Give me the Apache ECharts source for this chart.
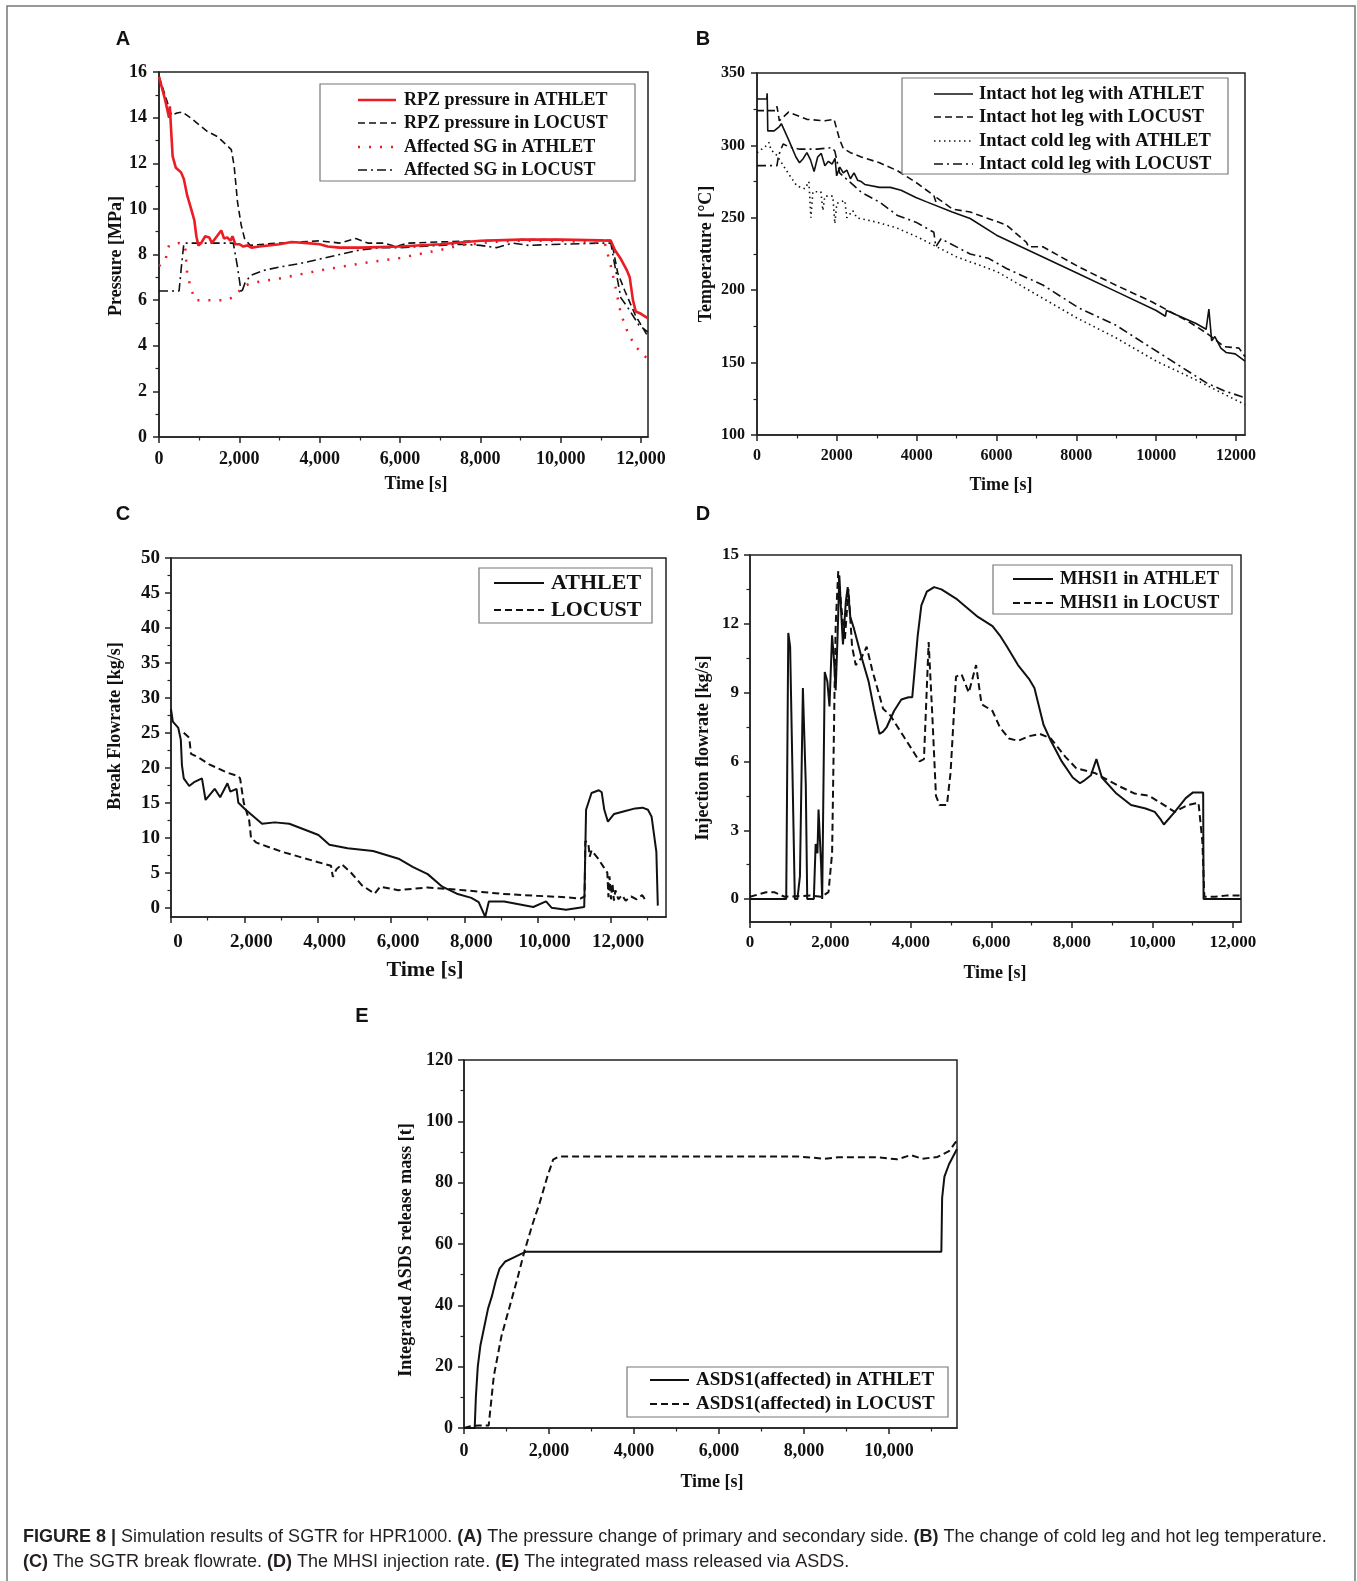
<!DOCTYPE html>
<html>
<head>
<meta charset="utf-8">
<title>SGTR simulation results for HPR1000</title>
<script src="https://cdn.jsdelivr.net/npm/echarts@6/dist/echarts.min.js"></script>
<style>
  html, body { margin: 0; padding: 0; background: #fff; }
  #chart { width: 1357px; height: 1581px; }
</style>
</head>
<body>
<div id="chart"></div>
<script>
// ---- data: [time s, value] ----
// (A) pressure [MPa]
const aRpzAthlet = [[0,15.8],[150,14.8],[250,14.0],[270,14.5],[300,13.5],[340,12.3],[420,11.8],[550,11.6],[620,11.3],[700,10.6],[800,10.0],[880,9.5],[930,8.8],[980,8.4],[1050,8.5],[1150,8.8],[1250,8.75],[1320,8.5],[1400,8.7],[1550,9.05],[1620,8.7],[1700,8.75],[1780,8.6],[1830,8.8],[1900,8.45],[2000,8.45],[2100,8.35],[2200,8.4],[2300,8.3],[2500,8.35],[3000,8.45],[3300,8.55],[3700,8.5],[4000,8.45],[4200,8.35],[4500,8.3],[5000,8.3],[6000,8.35],[7000,8.45],[8000,8.6],[9000,8.65],[10000,8.65],[11000,8.62],[11250,8.6],[11350,8.2],[11500,7.8],[11650,7.3],[11720,7.0],[11800,6.0],[11870,5.5],[12000,5.4],[12175,5.2]];
const aRpzLocust = [[0,15.8],[150,15.0],[310,14.1],[450,14.2],[580,14.25],[700,14.1],[850,13.9],[1200,13.4],[1470,13.15],[1650,12.85],[1800,12.6],[1870,11.9],[1955,10.3],[2045,9.3],[2130,8.7],[2270,8.4],[2600,8.45],[3000,8.5],[4000,8.6],[4500,8.5],[4900,8.7],[5200,8.5],[5600,8.5],[5900,8.35],[6200,8.5],[7000,8.55],[8000,8.6],[9000,8.65],[10000,8.65],[11000,8.62],[11250,8.62],[11290,8.4],[11420,7.2],[11600,6.4],[11870,5.3],[12175,4.4]];
const aSgAthlet = [[0,7.5],[150,7.7],[250,8.4],[500,8.5],[650,8.4],[700,7.2],[780,6.6],[900,6.0],[1700,6.0],[1900,6.2],[2100,6.6],[2300,6.75],[3000,6.95],[4000,7.3],[5000,7.6],[6000,7.85],[7000,8.2],[7500,8.4],[8300,8.55],[9000,8.6],[10000,8.6],[11100,8.5],[11250,7.5],[11350,6.7],[11500,5.4],[11700,4.45],[11900,3.9],[12175,3.4]];
const aSgLocust = [[0,6.4],[500,6.4],[560,7.5],[620,8.5],[1000,8.5],[1500,8.5],[1850,8.5],[1950,7.5],[2050,6.3],[2150,6.8],[2300,7.1],[2600,7.3],[3000,7.45],[3500,7.6],[4000,7.8],[4500,8.0],[5000,8.2],[5500,8.3],[6000,8.3],[6500,8.35],[7000,8.4],[7500,8.45],[8000,8.4],[8400,8.3],[8800,8.5],[9200,8.4],[10000,8.45],[11000,8.5],[11250,8.5],[11330,7.7],[11500,6.1],[11700,5.6],[11950,4.9],[12175,4.6]];

// (B) temperature [°C]
const bHotAthlet = [[0,332],[245,332],[255,336],[270,310],[430,310],[560,313],[610,315],[790,304],[975,292],[1065,288],[1160,291],[1250,295],[1340,290],[1430,282],[1520,292],[1610,294.5],[1700,286],[1790,289],[1880,287],[1955,291],[1995,279],[2075,285],[2160,281],[2250,283],[2340,277],[2430,281],[2520,276],[2610,275],[2700,273],[3070,271],[3340,271],[3610,269],[3980,264],[4250,261],[4890,254],[5340,249.5],[6000,238],[7000,225],[8000,212],[9000,199],[10000,186],[10230,182],[10260,186],[10500,183],[11000,177],[11250,173],[11320,187],[11390,165],[11470,168],[11620,160],[11750,157],[11980,156],[12225,151]];
const bHotLocust = [[0,324],[470,324],[500,327],[560,317],[790,323],[1250,318],[1700,317],[1930,318],[2070,304],[2160,298],[2340,295],[2610,292],[3070,288],[3520,282.5],[3980,274.5],[4430,265.4],[4480,261],[4500,264],[4900,256],[5340,254],[6250,245],[6750,233],[6800,230],[7160,230],[8070,216],[8980,203.6],[9890,192],[10800,178.5],[11260,170.4],[11710,161],[12075,160],[12225,154]];
const bColdAthlet = [[0,295],[245,300],[300,302],[350,297],[500,293],[800,280],[1000,272],[1200,270],[1300,275],[1350,250],[1400,268],[1600,268],[1650,255],[1700,265],[1900,265],[1950,246],[2000,260],[2200,262],[2250,250],[2400,255],[2500,250],[3000,247],[3500,243],[4000,237],[4500,230],[5000,223],[5500,218],[6000,213],[7000,197],[8000,181],[9000,167],[10000,151],[11000,138],[11500,131],[12225,121]];
const bColdLocust = [[0,286],[500,286],[540,293],[655,301],[800,299],[1065,297.4],[1500,297.4],[1880,298.5],[1950,296],[2070,281],[2610,267.7],[3070,260.8],[3520,251.6],[3980,247],[4430,240],[4480,230],[4610,235.5],[5340,225],[5800,222],[6250,215],[7160,203.6],[8070,187.6],[8980,176],[9890,160],[10800,144],[11260,136],[11710,130.4],[12225,125.8]];

// (C) break flowrate [kg/s]
const cAthlet = [[0,28.4],[50,26.6],[199,25.7],[268,24],[298,20.4],[348,18.5],[497,17.4],[645,18],[844,18.5],[943,15.4],[1192,17],[1341,15.8],[1539,17.8],[1619,16.6],[1787,17],[1837,15],[2036,14],[2483,12],[2830,12.2],[3227,12],[3724,11],[4022,10.4],[4320,9],[4816,8.5],[5511,8.1],[6206,7],[6603,5.8],[7001,4.8],[7398,3],[7795,2],[8192,1.4],[8391,0.8],[8570,-1.3],[8669,0.9],[9086,0.9],[9880,0.1],[10228,0.9],[10377,0],[10774,-0.3],[11270,0.1],[11320,14],[11469,16.4],[11668,16.8],[11747,16.5],[11817,14],[11916,12.3],[12085,13.4],[12363,13.8],[12661,14.2],[12859,14.3],[13008,14],[13108,13],[13237,8],[13277,0.3]];
const cLocust = [[348,25],[497,24.3],[545,22],[744,21.5],[1041,20.5],[1537,19.3],[1835,18.8],[1884,18.5],[1984,15],[2132,12.5],[2182,10],[2331,9.3],[3025,8],[4017,6.5],[4364,6],[4414,4.4],[4513,5.5],[4662,6.2],[4910,5],[5208,3.2],[5555,2],[5704,3],[6200,2.5],[6993,2.9],[7985,2.5],[8977,2],[9969,1.7],[10763,1.5],[11160,1.3],[11280,1.6],[11300,9.5],[11380,9.3],[11420,7.3],[11470,8.2],[11650,7.0],[11800,5.8],[11900,5.0],[11930,1.5],[11960,4.5],[12000,1.2],[12040,3.5],[12080,1.0],[12120,2.5],[12200,1.2],[12300,1.8],[12400,1.0],[12550,1.6],[12700,1.2],[12850,1.8],[12950,1.0]];

// (D) MHSI injection flowrate [kg/s]
const dAthlet = [[0,0],[900,0],[951,11.6],[997,11],[1114,0],[1178,0],[1241,1],[1314,9.2],[1386,5],[1422,0],[1586,0],[1631,2.4],[1676,2],[1703,3.9],[1767,1.5],[1794,0],[1857,9.9],[1921,9.5],[1975,8.4],[2039,11.5],[2084,10.5],[2129,9.1],[2175,11.4],[2220,14.1],[2265,12.5],[2310,11.1],[2383,13],[2428,13.6],[2492,12.3],[2582,11.8],[2763,10.6],[2945,9.5],[3080,8.3],[3216,7.2],[3307,7.3],[3398,7.5],[3579,8.2],[3760,8.7],[3941,8.8],[4032,8.8],[4168,11.5],[4258,12.8],[4394,13.4],[4575,13.6],[4757,13.5],[5119,13.1],[5391,12.7],[5663,12.3],[6025,11.9],[6206,11.5],[6387,11.0],[6659,10.2],[6931,9.6],[7067,9.2],[7293,7.6],[7475,6.9],[7746,6.0],[8018,5.3],[8199,5.05],[8290,5.15],[8471,5.4],[8607,6.1],[8743,5.3],[9105,4.6],[9468,4.1],[9830,3.95],[10057,3.8],[10193,3.5],[10283,3.25],[10555,3.8],[10827,4.4],[11008,4.65],[11260,4.65],[11270,0],[12200,0]];
const dLocust = [[0,0.1],[400,0.3],[600,0.3],[860,0.1],[1500,0.15],[1770,0.1],[1950,0.3],[2040,2.0],[2100,9],[2130,12],[2193,14.3],[2265,12.8],[2356,11.3],[2446,13.5],[2537,11],[2627,10.2],[2763,10.5],[2899,11],[3035,10],[3307,8.3],[3488,8.0],[3851,7.0],[4213,6.0],[4322,6.1],[4439,11.2],[4530,8],[4621,4.5],[4711,4.1],[4893,4.1],[4983,5.5],[5119,9.7],[5255,9.8],[5436,9.0],[5617,10.2],[5753,8.5],[6025,8.2],[6206,7.5],[6433,7.0],[6659,6.9],[6931,7.1],[7203,7.2],[7475,7.0],[7837,6.2],[8109,5.7],[8562,5.5],[8879,5.2],[9196,4.9],[9558,4.6],[9920,4.5],[10193,4.2],[10555,3.8],[10872,4.1],[11144,4.2],[11240,2.5],[11290,0.1],[11552,0.1],[11824,0.15],[12200,0.15]];

// (E) integrated ASDS release mass [t]
const eAthlet = [[0,0],[252,0],[279,10],[324,20],[387,27],[477,33],[567,39],[657,43],[747,48],[837,52],[972,54.3],[1152,55.5],[1332,56.7],[1467,57.5],[11232,57.5],[11250,75],[11304,82],[11412,86],[11600,91]];
const eLocust = [[0,0],[150,0.6],[350,0.8],[580,0.8],[612,5],[702,17],[882,30],[1062,39],[1242,48],[1422,57.6],[1602,66],[1782,73.5],[1962,82],[2097,87.5],[2232,88.5],[5202,88.5],[7902,88.5],[8487,87.8],[8802,88.3],[9702,88.3],[10197,87.6],[10512,89],[10782,87.8],[11142,88.4],[11412,90.3],[11600,93.8]];

// ---- tick values ----
const timeTicks = [0, 2000, 4000, 6000, 8000, 10000, 12000];
const timeMinor = [1000, 3000, 5000, 7000, 9000, 11000];
const timeMinorC = [1000, 3000, 5000, 7000, 9000, 11000, 13000];
const eTimeTicks = [0, 2000, 4000, 6000, 8000, 10000];
const eTimeMinor = [1000, 3000, 5000, 7000, 9000, 11000];
const aYTicks = [0, 2, 4, 6, 8, 10, 12, 14, 16];
const aYMinor = [1, 3, 5, 7, 9, 11, 13, 15];
const bYTicks = [100, 150, 200, 250, 300, 350];
const bYMinor = [125, 175, 225, 275, 325];
const cYTicks = [0, 5, 10, 15, 20, 25, 30, 35, 40, 45, 50];
const cYMinor = [2.5, 7.5, 12.5, 17.5, 22.5, 27.5, 32.5, 37.5, 42.5, 47.5];
const dYTicks = [0, 3, 6, 9, 12, 15];
const dYMinor = [1.5, 4.5, 7.5, 10.5, 13.5];
const eYTicks = [0, 20, 40, 60, 80, 100, 120];
const eYMinor = [10, 30, 50, 70, 90, 110];

const SERIF = '"Liberation Serif", "Times New Roman", serif';
const SANS = '"Liberation Sans", Arial, sans-serif';
const RED = '#ec1c24';
const INK = '#111';

const comma = v => String(v).replace(/\B(?=(\d{3})+(?!\d))/g, ',');
const plain = v => String(v);

// dash patterns
const DASH = [7, 4];
const DOT_RED = [2, 9];
const DOT = [1.5, 3.5];
const DASHDOT = [9, 4, 2, 4];

let myChart = echarts.init(document.getElementById('chart'));

const grids = [
  { left: 159, top: 72, width: 489, height: 365 },   // A
  { left: 757, top: 73, width: 488, height: 362 },   // B
  { left: 171, top: 558, width: 495, height: 359 },  // C
  { left: 750, top: 555, width: 491, height: 367 },  // D
  { left: 464, top: 1060, width: 493, height: 368 }  // E
].map(g => Object.assign(g, { show: true, borderColor: '#222', borderWidth: 1.5, containLabel: false }));

let xAxes = [];
let yAxes = [];

function addAxes(list, dim, grid, min, max, major, minor, fmt, fontSize, margin, labelExtra) {
  const isX = dim === 'x';
  list.push({
    type: 'value', gridIndex: grid, min: min, max: max,
    position: isX ? 'bottom' : 'left',
    axisLine: { show: true, onZero: false, lineStyle: { color: '#222', width: 1.5 } },
    axisTick: { show: true, inside: false, length: 6, customValues: major, lineStyle: { color: '#222', width: 1.5 } },
    axisLabel: Object.assign({
      customValues: major, formatter: fmt, color: INK,
      fontFamily: SERIF, fontWeight: 'bold', fontSize: fontSize,
      margin: margin
    }, labelExtra || {}),
    splitLine: { show: false }
  });
  list.push({
    type: 'value', gridIndex: grid, min: min, max: max,
    position: isX ? 'bottom' : 'left',
    axisLine: { show: false, onZero: false },
    axisTick: { show: true, inside: false, length: 3.5, customValues: minor, lineStyle: { color: '#222', width: 1.2 } },
    axisLabel: { show: false },
    splitLine: { show: false }
  });
}

addAxes(xAxes, 'x', 0, 0, 12175, timeTicks, timeMinor, comma, 18, 13);
addAxes(yAxes, 'y', 0, 0, 16, aYTicks, aYMinor, plain, 18, 12);
addAxes(xAxes, 'x', 1, 0, 12225, timeTicks, timeMinor, plain, 16, 13);
addAxes(yAxes, 'y', 1, 100, 350, bYTicks, bYMinor, plain, 16, 12);
addAxes(xAxes, 'x', 2, 0, 13500, timeTicks, timeMinorC, comma, 19, 16, { padding: [0, 0, 0, 14] });
addAxes(yAxes, 'y', 2, -1.33, 50, cYTicks, cYMinor, plain, 19, 11);
addAxes(xAxes, 'x', 3, 0, 12200, timeTicks, timeMinor, comma, 17, 12);
addAxes(yAxes, 'y', 3, -1, 15, dYTicks, dYMinor, plain, 17, 11);
addAxes(xAxes, 'x', 4, 0, 11600, eTimeTicks, eTimeMinor, comma, 18, 14);
addAxes(yAxes, 'y', 4, 0, 120, eYTicks, eYMinor, plain, 18, 11);

function line(name, data, panel, color, width, dash) {
  return {
    name: name, type: 'line', data: data,
    xAxisIndex: panel * 2, yAxisIndex: panel * 2,
    symbol: 'none', silent: true, clip: true,
    lineStyle: { color: color, width: width, type: dash }
  };
}

const series = [
  line('RPZ pressure in LOCUST', aRpzLocust, 0, INK, 1.6, DASH),
  line('Affected SG in LOCUST', aSgLocust, 0, INK, 1.6, DASHDOT),
  line('Affected SG in ATHLET', aSgAthlet, 0, RED, 2.5, DOT_RED),
  line('RPZ pressure in ATHLET', aRpzAthlet, 0, RED, 2.6, 'solid'),
  line('Intact hot leg with ATHLET', bHotAthlet, 1, INK, 1.6, 'solid'),
  line('Intact hot leg with LOCUST', bHotLocust, 1, INK, 1.6, DASH),
  line('Intact cold leg with ATHLET', bColdAthlet, 1, INK, 1.6, DOT),
  line('Intact cold leg with LOCUST', bColdLocust, 1, INK, 1.6, DASHDOT),
  line('ATHLET', cAthlet, 2, INK, 2, 'solid'),
  line('LOCUST', cLocust, 2, INK, 2, DASH),
  line('MHSI1 in ATHLET', dAthlet, 3, INK, 2, 'solid'),
  line('MHSI1 in LOCUST', dLocust, 3, INK, 2, DASH),
  line('ASDS1(affected) in ATHLET', eAthlet, 4, INK, 2, 'solid'),
  line('ASDS1(affected) in LOCUST', eLocust, 4, INK, 2, DASH)
];

// ---- legends, titles, caption ----
function legendBox(box, rows) {
  const els = [{
    type: 'rect', shape: { x: box.x, y: box.y, width: box.w, height: box.h },
    style: { fill: '#fff', stroke: '#777', lineWidth: 1.2 }, z: 50
  }];
  rows.forEach(r => {
    els.push({
      type: 'line', shape: { x1: box.lx1, y1: r.y, x2: box.lx2, y2: r.y },
      style: { stroke: r.color, lineWidth: r.width, lineDash: r.dash === 'solid' ? null : r.dash }, z: 51
    });
    els.push({
      type: 'text', x: box.tx, y: r.y, z: 51,
      style: { text: r.text, fill: INK, font: 'bold ' + box.fs + 'px ' + SERIF, align: 'left', verticalAlign: 'middle' }
    });
  });
  return els;
}

function txt(x, y, text, font, rot) {
  return {
    type: 'text', x: x, y: y, rotation: rot || 0, z: 40,
    style: { text: text, fill: INK, font: font, align: 'center', verticalAlign: 'middle' }
  };
}

const AX = 'bold 18px ' + SERIF;
const graphics = [].concat(
  [{ type: 'rect', shape: { x: 7, y: 6, width: 1348, height: 1620 }, style: { fill: 'none', stroke: '#777', lineWidth: 1.5 }, z: 1 }],
  [
    txt(123, 39, 'A', 'bold 20px ' + SANS), txt(703, 39, 'B', 'bold 20px ' + SANS),
    txt(123, 514, 'C', 'bold 20px ' + SANS), txt(703, 514, 'D', 'bold 20px ' + SANS),
    txt(362, 1016, 'E', 'bold 20px ' + SANS),
    txt(416, 484, 'Time [s]', AX), txt(116, 256, 'Pressure [MPa]', AX, Math.PI / 2),
    txt(1001, 485, 'Time [s]', AX), txt(706, 254, 'Temperature [°C]', AX, Math.PI / 2),
    txt(425, 970, 'Time [s]', 'bold 22px ' + SERIF), txt(115, 726, 'Break Flowrate [kg/s]', AX, Math.PI / 2),
    txt(995, 973, 'Time [s]', AX), txt(703, 748, 'Injection flowrate [kg/s]', AX, Math.PI / 2),
    txt(712, 1482, 'Time [s]', AX), txt(406, 1250, 'Integrated ASDS release mass [t]', AX, Math.PI / 2)
  ],
  legendBox({ x: 320, y: 84, w: 315, h: 97, lx1: 358, lx2: 396, tx: 404, fs: 18 }, [
    { y: 100, text: 'RPZ pressure in ATHLET', color: RED, width: 2.6, dash: 'solid' },
    { y: 123, text: 'RPZ pressure in LOCUST', color: INK, width: 1.6, dash: DASH },
    { y: 147, text: 'Affected SG in ATHLET', color: RED, width: 2.5, dash: DOT_RED },
    { y: 170, text: 'Affected SG in LOCUST', color: INK, width: 1.6, dash: DASHDOT }
  ]),
  legendBox({ x: 902, y: 78, w: 326, h: 96, lx1: 934, lx2: 973, tx: 979, fs: 18.5 }, [
    { y: 94, text: 'Intact hot leg with ATHLET', color: INK, width: 1.6, dash: 'solid' },
    { y: 117, text: 'Intact hot leg with LOCUST', color: INK, width: 1.6, dash: DASH },
    { y: 141, text: 'Intact cold leg with ATHLET', color: INK, width: 1.6, dash: DOT },
    { y: 164, text: 'Intact cold leg with LOCUST', color: INK, width: 1.6, dash: DASHDOT }
  ]),
  legendBox({ x: 479, y: 568, w: 173, h: 55, lx1: 494, lx2: 544, tx: 551, fs: 22 }, [
    { y: 583, text: 'ATHLET', color: INK, width: 2, dash: 'solid' },
    { y: 610, text: 'LOCUST', color: INK, width: 2, dash: DASH }
  ]),
  legendBox({ x: 993, y: 565, w: 239, h: 49, lx1: 1013, lx2: 1053, tx: 1060, fs: 18.5 }, [
    { y: 579, text: 'MHSI1 in ATHLET', color: INK, width: 2, dash: 'solid' },
    { y: 603, text: 'MHSI1 in LOCUST', color: INK, width: 2, dash: DASH }
  ]),
  legendBox({ x: 627, y: 1367, w: 321, h: 50, lx1: 650, lx2: 689, tx: 696, fs: 19 }, [
    { y: 1380, text: 'ASDS1(affected) in ATHLET', color: INK, width: 2, dash: 'solid' },
    { y: 1404, text: 'ASDS1(affected) in LOCUST', color: INK, width: 2, dash: DASH }
  ]),
  [
    {
      type: 'text', x: 23, y: 1537, z: 40,
      style: {
        text: '{b|FIGURE 8 |} Simulation results of SGTR for HPR1000. {b|(A)} The pressure change of primary and secondary side. {b|(B)} The change of cold leg and hot leg temperature.',
        font: '18px ' + SANS, fill: '#231f20', align: 'left', verticalAlign: 'middle',
        rich: { b: { fontWeight: 'bold', fontFamily: SANS, fontSize: 18, fill: '#231f20' } }
      }
    },
    {
      type: 'text', x: 23, y: 1562, z: 40,
      style: {
        text: '{b|(C)} The SGTR break flowrate. {b|(D)} The MHSI injection rate. {b|(E)} The integrated mass released via ASDS.',
        font: '18px ' + SANS, fill: '#231f20', align: 'left', verticalAlign: 'middle',
        rich: { b: { fontWeight: 'bold', fontFamily: SANS, fontSize: 18, fill: '#231f20' } }
      }
    }
  ]
);

let option = {
  animation: false,
  backgroundColor: '#fff',
  grid: grids,
  xAxis: xAxes,
  yAxis: yAxes,
  series: series,
  graphic: graphics
};
myChart.setOption(option);
</script>
</body>
</html>
